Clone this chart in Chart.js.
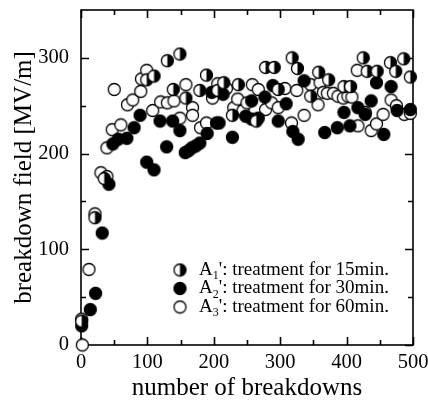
<!DOCTYPE html>
<html>
<head>
<meta charset="utf-8">
<title>Breakdown field vs number of breakdowns</title>
<style>
  html, body { margin: 0; padding: 0; background: #fff; }
</style>
</head>
<body>
<canvas id="myChart" width="428" height="402"></canvas>

<script src="https://cdn.jsdelivr.net/npm/chart.js"></script>
<script>
// [number of breakdowns, breakdown field (MV/m)]
const a1Points = [ // A1': 15 min, half filled marker
  [1,25], [21,133], [35,174], [99,277], [110,281], [130,297], [139,267], [149,304],
  [158,258], [179,266], [189,282], [206,266], [215,274], [228,240], [237,272], [264,234],
  [278,290], [291,290], [297,267], [318,300], [326,289], [346,260], [358,285], [373,277],
  [396,270], [406,270], [425,300], [431,286], [446,286], [466,295], [474,286], [486,299], [496,280]
];
const a2Points = [ // A2': 30 min, filled marker
  [1,20], [14,37], [22,54], [32,117], [42,168], [48,210], [56,215], [69,216],
  [80,227], [89,240], [99,191], [110,183], [119,234], [129,207], [138,234], [149,224],
  [157,201], [162,203], [167,206], [173,208], [179,211], [190,221], [197,264], [204,232],
  [208,232], [214,262], [228,217], [248,239], [257,236], [257,255], [267,237], [277,259],
  [289,271], [297,234], [309,252], [319,223], [327,215], [336,276], [367,222], [386,227],
  [396,243], [405,229], [417,248], [428,241], [437,255], [445,274], [456,220], [467,270],
  [476,245], [496,246]
];
const a3Points = [ // A3': 60 min, open marker
  [2,0], [1,27], [12,79], [21,137], [30,180], [39,176], [39,206], [47,225],
  [50,267], [60,230], [70,251], [78,256], [90,265], [91,278], [99,287], [108,245],
  [120,254], [130,253], [140,255], [149,237], [158,272], [168,248], [168,240], [180,227],
  [189,232], [198,258], [205,267], [206,273], [219,268], [230,248], [236,257], [244,245],
  [250,253], [258,272], [267,267], [278,246], [287,253], [297,248], [307,268], [317,232],
  [325,266], [336,240], [346,272], [357,251], [360,274], [365,264], [371,263], [380,263],
  [387,260], [395,258], [402,260], [408,259], [416,287], [417,229], [428,243], [437,224],
  [445,231], [455,241], [467,256], [475,250], [487,241], [496,242]
];

const xTicks = [0, 100, 200, 300, 400, 500];
const xMinorTicks = [50, 150, 250, 350, 450];
const yTicks = [0, 100, 200, 300];
const yMinorTicks = [50, 150, 250];

const legendLabels = [
  {sub: '1', text: "': treatment for 15min."},
  {sub: '2', text: "': treatment for 30min."},
  {sub: '3', text: "': treatment for 60min."}
];

const SERIF = '"Liberation Serif", "Times New Roman", serif';

// small canvases used as point styles
function makeMarker(kind) {
  const c = document.createElement('canvas');
  c.width = 15; c.height = 15;
  const g = c.getContext('2d');
  const r = 6, m = 7.5;
  g.beginPath();
  g.arc(m, m, r, 0, Math.PI * 2);
  g.fillStyle = kind === 'full' ? '#000' : '#fff';
  g.fill();
  if (kind === 'half') {
    g.beginPath();
    g.moveTo(m, m - r);
    g.arc(m, m, r, -Math.PI / 2, Math.PI / 2);
    g.closePath();
    g.fillStyle = '#000';
    g.fill();
  }
  g.beginPath();
  g.arc(m, m, r, 0, Math.PI * 2);
  g.lineWidth = 1.3;
  g.strokeStyle = '#000';
  g.stroke();
  return c;
}
const markers = [makeMarker('half'), makeMarker('full'), makeMarker('open')];

function toXY(pts) {
  return pts.map(p => ({x: p[0], y: p[1]}));
}

// box and inward ticks on all four sides
const frameTicks = {
  id: 'frameTicks',
  beforeDatasetsDraw(chart) {
    const {ctx, chartArea: a, scales: {x, y}} = chart;
    ctx.save();
    ctx.strokeStyle = '#000';
    ctx.lineWidth = 1.6;
    ctx.strokeRect(a.left, a.top, a.right - a.left, a.bottom - a.top);
    ctx.beginPath();
    const xt = (vals, len) => vals.forEach(v => {
      const px = Math.round(x.getPixelForValue(v)) + 0.5;
      ctx.moveTo(px, a.bottom); ctx.lineTo(px, a.bottom - len);
      ctx.moveTo(px, a.top); ctx.lineTo(px, a.top + len);
    });
    const yt = (vals, len) => vals.forEach(v => {
      const py = Math.round(y.getPixelForValue(v)) + 0.5;
      ctx.moveTo(a.left, py); ctx.lineTo(a.left + len, py);
      ctx.moveTo(a.right, py); ctx.lineTo(a.right - len, py);
    });
    xt(xTicks, 8); xt(xMinorTicks, 5);
    yt(yTicks, 8); yt(yMinorTicks, 5);
    ctx.stroke();
    ctx.restore();
  }
};

// legend inside the plot, with subscripts
const innerLegend = {
  id: 'innerLegend',
  afterDraw(chart) {
    const ctx = chart.ctx;
    const mx = 180, tx = 199, rows = [270, 288.5, 307];
    ctx.save();
    ctx.fillStyle = '#000';
    ctx.textBaseline = 'middle';
    legendLabels.forEach((lab, i) => {
      const yy = rows[i];
      ctx.drawImage(markers[i], mx - 7.5, yy - 7.5);
      ctx.font = '19px ' + SERIF;
      ctx.fillText('A', tx, yy);
      let w = ctx.measureText('A').width;
      ctx.font = '12px ' + SERIF;
      ctx.fillText(lab.sub, tx + w, yy + 6);
      w += ctx.measureText(lab.sub).width;
      ctx.font = '19px ' + SERIF;
      ctx.fillText(lab.text, tx + w, yy);
    });
    ctx.restore();
  }
};

const ctx = document.getElementById('myChart').getContext('2d');
new Chart(ctx, {
  type: 'scatter',
  data: {
    datasets: [
      {label: "A1'", data: toXY(a1Points), pointStyle: markers[0], clip: false},
      {label: "A2'", data: toXY(a2Points), pointStyle: markers[1], clip: false},
      {label: "A3'", data: toXY(a3Points), pointStyle: markers[2], clip: false}
    ]
  },
  options: {
    responsive: false,
    animation: false,
    layout: {padding: {top: 10, right: 15, left: 0, bottom: 0}},
    plugins: {legend: {display: false}, tooltip: {enabled: false}},
    scales: {
      x: {
        type: 'linear',
        min: 0, max: 500,
        afterBuildTicks: s => { s.ticks = xTicks.map(v => ({value: v})); },
        afterFit: s => { s.height = 57; s.paddingLeft = 0; s.paddingRight = 0; },
        grid: {display: false},
        border: {display: false},
        ticks: {
          color: '#000', padding: -3, autoSkip: false, maxRotation: 0,
          font: {family: SERIF, size: 20.5}
        },
        title: {
          display: true, text: 'number of breakdowns', color: '#000',
          font: {family: SERIF, size: 25, lineHeight: 1},
          padding: {top: 0, bottom: 1}
        }
      },
      y: {
        type: 'linear',
        min: 0, max: 350,
        afterBuildTicks: s => { s.ticks = yTicks.map(v => ({value: v})); },
        afterFit: s => { s.width = 81; s.paddingTop = 0; s.paddingBottom = 0; },
        grid: {display: false},
        border: {display: false},
        ticks: {
          color: '#000', padding: 4,
          font: {family: SERIF, size: 20.5}
        },
        title: {
          display: true, text: 'breakdown field [MV/m]', color: '#000',
          font: {family: SERIF, size: 25, lineHeight: 1},
          padding: {top: 12, bottom: 0}
        }
      }
    }
  },
  plugins: [frameTicks, innerLegend]
});
</script>
</body>
</html>
